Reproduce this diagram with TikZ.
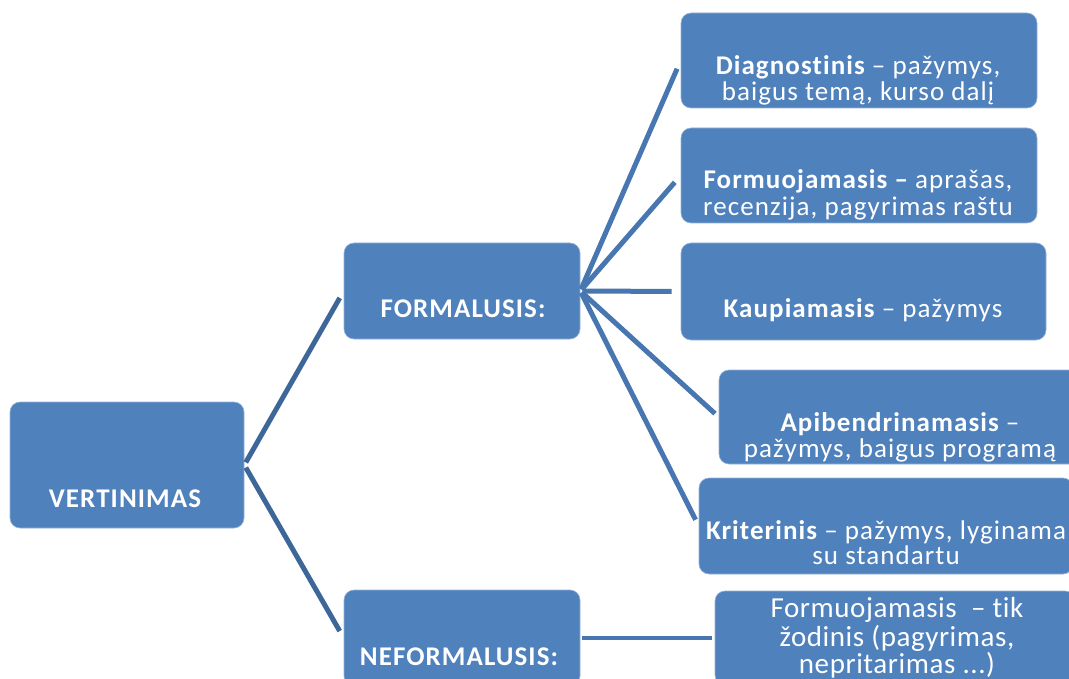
\documentclass[tikz,border=0pt]{standalone}
\usepackage{fontspec}
\setmainfont{Carlito}
\newfontfamily\widefont[LetterSpace=4,RawFeature={-liga}]{Carlito}
\newfontfamily\tikfont[LetterSpace=2,RawFeature={-liga}]{Carlito}
\definecolor{boxblue}{HTML}{4F81BD}
\definecolor{linkdark}{HTML}{3D6699}
\definecolor{linklight}{HTML}{4876B0}
\tikzset{
  box/.style={fill=boxblue, draw=boxblue!60!white, line width=0.6pt, rounded corners=10pt, inner sep=0pt},
  txt/.style={text=white, anchor=base, inner sep=0pt, font=\widefont\fontsize{27}{30}\selectfont},
  tiktxt/.style={text=white, anchor=base, inner sep=0pt, font=\tikfont\fontsize{29}{32}\selectfont},
  linkA/.style={draw=linkdark, line width=5pt},
  linkB/.style={draw=linklight, line width=5pt},
}
\begin{document}
\begin{tikzpicture}[x=1pt,y=-1pt]
\useasboundingbox (0,0) rectangle (1069,679);
\clip (0,0) rectangle (1069,679);
% boxes
\node[box, minimum width=234pt, minimum height=126pt] (vert) at (127,465) {};
\node[box, minimum width=236pt, minimum height=96pt] (form) at (462,291) {};
\node[box, minimum width=236pt, minimum height=96pt] (neform) at (462,638) {};
\node[box, minimum width=356pt, minimum height=95pt] (diag) at (859,60.5) {};
\node[box, minimum width=356pt, minimum height=95pt] (formuo) at (859,175.5) {};
\node[box, minimum width=365pt, minimum height=97pt] (kaup) at (863.5,291.5) {};
\node[box, minimum width=362pt, minimum height=94pt] (apib) at (900,417) {};
\node[box, minimum width=374pt, minimum height=96pt] (krit) at (886,526) {};
\node[box, minimum width=360pt, minimum height=94pt] (tik) at (895,638) {};
% texts
\node[txt] (t1) at (125,507) {\bfseries VERTINIMAS};
\node[txt] (t2) at (463,318) {\bfseries FORMALUSIS:};
\node[txt] (t3) at (459,665) {\bfseries NEFORMALUSIS:};
\node[txt] (t4a) at (858,75) {\bfseries Diagnostinis\mdseries{} – pažymys,};
\node[txt] (t4b) at (858,101) {baigus temą, kurso dalį};
\node[txt] (t5a) at (858,189) {\bfseries Formuojamasis –\mdseries{} aprašas,};
\node[txt] (t5b) at (858,216) {recenzija, pagyrimas raštu};
\node[txt] (t6) at (863,317) {\bfseries Kaupiamasis\mdseries{} – pažymys};
\node[txt] (t7a) at (900,431) {\bfseries Apibendrinamasis\mdseries{} –};
\node[txt] (t7b) at (900,457) {pažymys, baigus programą};
\node[txt] (t8a) at (886,539) {\bfseries Kriterinis\mdseries{} – pažymys, lyginama};
\node[txt] (t8b) at (886,564) {su standartu};
\node[tiktxt] (t9a) at (897,617) {Formuojamasis \ – tik};
\node[tiktxt] (t9b) at (897,646) {žodinis (pagyrimas,};
\node[tiktxt] (t9c) at (897,673) {nepritarimas ...)};
% connectors
\draw[linkA, shorten <=3pt, shorten >=8pt] (vert.east) -- (form.west);
\draw[linkA, shorten <=3pt, shorten >=8pt] (vert.east) -- (neform.west);
\draw[linkB, shorten <=2pt, shorten >=9pt] (form.east) -- (diag.west);
\draw[linkB, shorten <=2pt, shorten >=9pt] (form.east) -- (formuo.west);
\draw[linkB, shorten <=2pt, shorten >=9pt] (form.east) -- (kaup.west);
\draw[linkB, shorten <=2pt, shorten >=5pt] (form.east) -- (apib.west);
\draw[linkB, shorten <=2pt, shorten >=7pt] (form.east) -- (krit.west);
\draw[linkB, line width=4pt, shorten <=2pt, shorten >=3pt] (neform.east) -- (tik.west);
\end{tikzpicture}
\end{document}
